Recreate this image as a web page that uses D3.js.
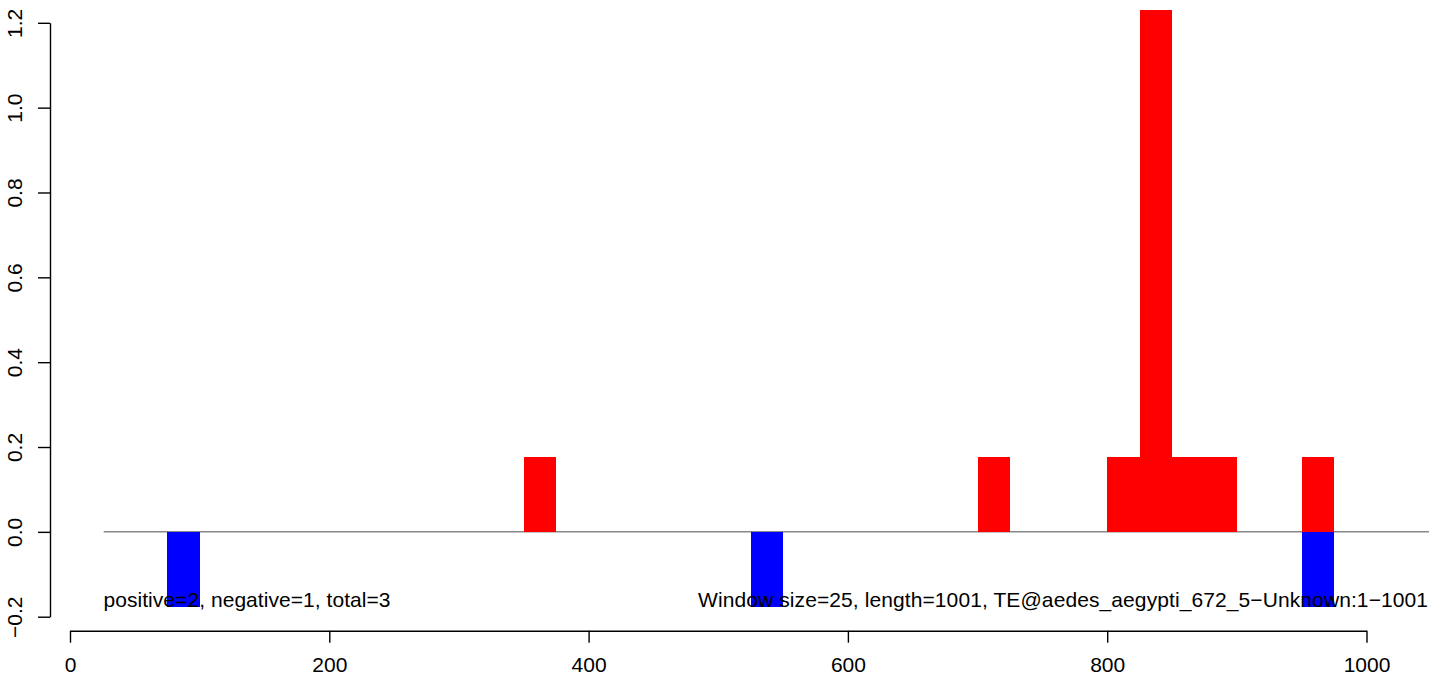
<!DOCTYPE html>
<html>
<head>
<meta charset="utf-8">
<script src="https://cdn.jsdelivr.net/npm/d3@7"></script>
<style>
  html, body { margin: 0; padding: 0; background: #fff; }
  svg { display: block; }
  text { font-family: "Liberation Sans", Arial, Helvetica, sans-serif; }
</style>
</head>
<body>
<svg id="chart" width="1429" height="676"></svg>
<script>
// Window starts (size 25) and values
const windowSize = 25;
const posStarts = [350, 700, 800, 825, 850, 875, 950];
const posValues = [0.176, 0.176, 0.176, 1.23, 0.176, 0.176, 0.176];
const negStarts = [75, 525, 950];
const negValues = [-0.176, -0.176, -0.176];
const xTicks = [0, 200, 400, 600, 800, 1000];
const yTicks = [-0.2, 0.0, 0.2, 0.4, 0.6, 0.8, 1.0, 1.2];
const baselineRange = [26, 1060];
const leftLabel = "positive=2, negative=1, total=3";
const rightLabel = "Window size=25, length=1001, TE@aedes_aegypti_672_5\u2212Unknown:1\u22121001";

const svg = d3.select("#chart");
const x = d3.scaleLinear().domain([0, 1000]).range([70, 1366.5]);
const y = d3.scaleLinear().domain([-0.2, 1.2]).range([616.7, 22.8]);
const FS = 21;

// baseline (gray)
svg.append("line")
  .attr("x1", x(baselineRange[0])).attr("x2", x(baselineRange[1]))
  .attr("y1", y(0)).attr("y2", y(0))
  .attr("stroke", "#888").attr("stroke-width", 1.5);

// positive bars
svg.append("g").attr("shape-rendering", "crispEdges")
  .selectAll("rect").data(posStarts.map((s, i) => ({s, v: posValues[i]})))
  .join("rect")
  .attr("x", d => x(d.s)).attr("width", d => x(d.s + windowSize) - x(d.s))
  .attr("y", d => y(d.v)).attr("height", d => y(0) - y(d.v))
  .attr("fill", "#ff0000");

// negative bars
svg.append("g").attr("shape-rendering", "crispEdges")
  .selectAll("rect").data(negStarts.map((s, i) => ({s, v: negValues[i]})))
  .join("rect")
  .attr("x", d => x(d.s)).attr("width", d => x(d.s + windowSize) - x(d.s))
  .attr("y", d => y(0)).attr("height", d => y(d.v) - y(0))
  .attr("fill", "#0000ff");

// x axis
const xAxis = d3.axisBottom(x).tickValues(xTicks).tickSize(12).tickSizeOuter(0)
  .tickFormat(d3.format("d"));
const gx = svg.append("g").attr("transform", "translate(0,630.7)").call(xAxis);
gx.selectAll("path.domain").attr("stroke", "#000").attr("stroke-width", 1.4);
gx.selectAll(".tick line").attr("stroke", "#000").attr("stroke-width", 1.4);
gx.selectAll(".tick text").attr("font-size", FS).attr("fill", "#000")
  .attr("dy", null).attr("y", 41)
  .style("font-family", "'Liberation Sans', Arial, sans-serif");

// y axis
const yAxis = d3.axisLeft(y).tickValues(yTicks).tickSize(12).tickSizeOuter(0)
  .tickFormat(d3.format(".1f"));
const gy = svg.append("g").attr("transform", "translate(50,0)").call(yAxis);
gy.selectAll("path.domain").attr("stroke", "#000").attr("stroke-width", 1.4);
gy.selectAll(".tick line").attr("stroke", "#000").attr("stroke-width", 1.4);
gy.selectAll(".tick text")
  .attr("font-size", FS).attr("fill", "#000")
  .attr("x", null).attr("dy", null).attr("y", null)
  .attr("text-anchor", "middle")
  .attr("transform", "translate(-28,0) rotate(-90)")
  .style("font-family", "'Liberation Sans', Arial, sans-serif");

// annotations
svg.append("text").attr("x", 103.5).attr("y", 606.5)
  .attr("font-size", FS).attr("fill", "#000")
  .attr("textLength", 287).attr("lengthAdjust", "spacing").text(leftLabel);
svg.append("text").attr("x", 698).attr("y", 606.5)
  .attr("font-size", FS).attr("fill", "#000")
  .attr("textLength", 730).attr("lengthAdjust", "spacing").text(rightLabel);
</script>
</body>
</html>
